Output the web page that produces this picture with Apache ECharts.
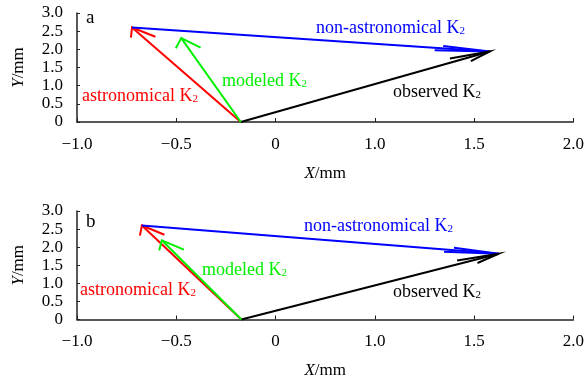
<!DOCTYPE html>
<html>
<head>
<meta charset="utf-8">
<script src="https://cdn.jsdelivr.net/npm/echarts@6/dist/echarts.min.js"></script>
<style>
  html, body { margin: 0; padding: 0; background: #fff; }
  #chart { width: 587px; height: 385px; }
</style>
</head>
<body>
<div id="chart"></div>
<script>
const FONT = '"Liberation Serif", "Times New Roman", serif'

// tick labels as printed on the x axis (one per 0.5 step from -1)
const xTickLabels = ['\u22121.0', '\u22120.5', '0', '1.0', '1.5', '2.0']
const xMin = -1, xMax = 1.5, xStep = 0.5

// panel a vectors, [x, y] in mm
const originA = [-0.175, 0]
const astronomicalA = [-0.723, 2.60]
const modeledA = [-0.475, 2.31]
const observedA = [1.079, 1.94]

// panel b
const originB = [-0.172, 0]
const astronomicalB = [-0.673, 2.60]
const modeledB = [-0.573, 2.19]
const observedB = [1.124, 1.82]

const HEAD_LEN = 0.28
const HEAD_ANG = 13 * Math.PI / 180
const GREEN = '#00f000'

function arrowRender(params, api) {
  const x0 = api.value(0), y0 = api.value(1)
  const x1 = api.value(2), y1 = api.value(3)
  const dx = x0 - x1, dy = y0 - y1
  const len = Math.hypot(dx, dy)
  const ux = dx / len, uy = dy / len
  const barb = (s) => {
    const c = Math.cos(HEAD_ANG), sn = Math.sin(HEAD_ANG) * s
    return api.coord([x1 + HEAD_LEN * (ux * c - uy * sn), y1 + HEAD_LEN * (ux * sn + uy * c)])
  }
  const p0 = api.coord([x0, y0])
  const p1 = api.coord([x1, y1])
  const style = { stroke: api.visual('color'), lineWidth: 2, fill: null }
  return {
    type: 'group',
    children: [
      { type: 'line', shape: { x1: p0[0], y1: p0[1], x2: p1[0], y2: p1[1] }, style },
      { type: 'polyline', shape: { points: [barb(1), p1, barb(-1)] }, style },
    ],
  }
}

function arrow(panel, color, from, to) {
  return {
    type: 'custom',
    xAxisIndex: panel,
    yAxisIndex: panel,
    renderItem: arrowRender,
    itemStyle: { color },
    encode: { x: [0, 2], y: [1, 3] },
    silent: true,
    animation: false,
    data: [[from[0], from[1], to[0], to[1]]],
  }
}

function xAxis(panel) {
  return {
    type: 'value',
    gridIndex: panel,
    min: xMin, max: xMax, interval: xStep,
    name: '{i|X}/mm',
    nameLocation: 'middle',
    nameGap: 43,
    nameTextStyle: {
      fontFamily: FONT, fontSize: 17, color: '#000',
      rich: { i: { fontFamily: FONT, fontSize: 17, fontStyle: 'italic', color: '#000' } },
    },
    axisLine: { onZero: false, lineStyle: { color: '#222', width: 1.5 } },
    axisTick: { inside: true, length: 4, lineStyle: { color: '#222', width: 1 } },
    axisLabel: {
      fontFamily: FONT, fontSize: 17, color: '#000', margin: 14,
      formatter: (v) => xTickLabels[Math.round((v - xMin) / xStep)],
    },
    splitLine: { show: false },
  }
}

function yAxis(panel) {
  return {
    type: 'value',
    gridIndex: panel,
    min: 0, max: 3, interval: 0.5,
    name: '{i|Y}/mm',
    nameLocation: 'middle',
    nameRotate: 90,
    nameGap: 50,
    nameTextStyle: {
      fontFamily: FONT, fontSize: 17, color: '#000',
      rich: { i: { fontFamily: FONT, fontSize: 17, fontStyle: 'italic', color: '#000' } },
    },
    axisLine: { show: true, onZero: false, lineStyle: { color: '#222', width: 1.5 } },
    axisTick: { show: true, inside: true, length: 3, lineStyle: { color: '#222', width: 1 } },
    axisLabel: {
      fontFamily: FONT, fontSize: 17, color: '#000', margin: 14,
      formatter: (v) => (v === 0 ? '0' : v.toFixed(1)),
    },
    splitLine: { show: false },
  }
}

function label(text, color, x, y) {
  return {
    type: 'text',
    x, y,
    silent: true,
    style: {
      text: '{m|' + text + '}{s|2}',
      fill: color,
      verticalAlign: 'middle',
      rich: {
        m: { fontFamily: FONT, fontSize: 18, lineHeight: 20, verticalAlign: 'bottom' },
        s: { fontFamily: FONT, fontSize: 11, lineHeight: 20, verticalAlign: 'bottom' },
      },
    },
  }
}

function panelTag(text, x, y) {
  return {
    type: 'text', x, y, silent: true,
    style: { text, fill: '#000', font: '19px ' + FONT, verticalAlign: 'middle' },
  }
}

const chart = echarts.init(document.getElementById('chart'), null, { renderer: 'canvas' })
chart.setOption({
  backgroundColor: '#fff',
  animation: false,
  grid: [
    { left: 77, top: 13, width: 499, height: 109 },
    { left: 77, top: 211, width: 499, height: 108.5 },
  ],
  xAxis: [xAxis(0), xAxis(1)],
  yAxis: [yAxis(0), yAxis(1)],
  series: [
    arrow(0, '#ff0000', originA, astronomicalA),
    arrow(0, '#0000ff', astronomicalA, observedA),
    arrow(0, '#000000', originA, observedA),
    arrow(0, GREEN, originA, modeledA),
    arrow(1, '#ff0000', originB, astronomicalB),
    arrow(1, '#0000ff', astronomicalB, observedB),
    arrow(1, '#000000', originB, observedB),
    arrow(1, GREEN, originB, modeledB),
  ],
  graphic: [
    panelTag('a', 86, 18),
    label('astronomical K', '#ff0000', 82, 95),
    label('modeled K', GREEN, 222, 80),
    label('non-astronomical K', '#0000ff', 316, 27),
    label('observed K', '#000000', 393, 91),
    panelTag('b', 86, 222),
    label('astronomical K', '#ff0000', 80, 289),
    label('modeled K', GREEN, 202, 269),
    label('non-astronomical K', '#0000ff', 304, 225),
    label('observed K', '#000000', 393, 291),
  ],
})
window.addEventListener('resize', () => chart.resize())
</script>
</body>
</html>
